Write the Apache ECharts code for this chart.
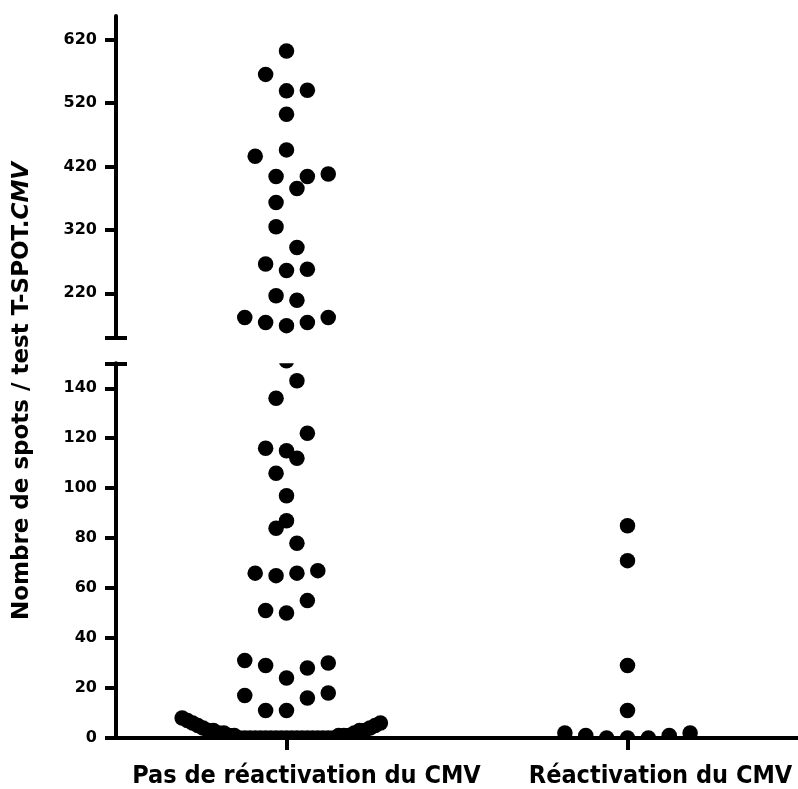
<!DOCTYPE html>
<html>
<head>
<meta charset="utf-8">
<script src="https://cdn.jsdelivr.net/npm/echarts@6/dist/echarts.min.js"></script>
<style>html,body{margin:0;background:#fff}#main{width:798px;height:789px}</style>
</head>
<body>
<div id="main"></div>
<script>
// groupes
const categories = ['Pas de réactivation du CMV', 'Réactivation du CMV'];

// nombre de spots par patient, lu sur la figure
// + place dans le nuage de points (en quarts d'écart entre deux points)
const noReactValues = [
  602, 565, 539, 540, 502, 446, 436, 404, 404, 408, 385, 363, 325, 292,
  266, 256, 258, 216, 209, 182, 174, 169, 174, 182,
  151, 143, 136, 122, 116, 115, 112, 106, 97, 87, 84, 78, 66, 65, 66, 67,
  55, 51, 50, 31, 29, 24, 28, 30, 17, 11, 11, 16, 18,
  8, 7, 6, 5, 4, 3, 3, 2, 2, 1, 1, 0, 0, 0, 0, 0, 0, 0, 0, 0, 0, 0, 0,
  0, 0, 0, 0, 0, 0, 0, 1, 1, 1, 2, 3, 3, 4, 5, 6, 7
];
const noReactOffsets = [
  0, -4, 0, 4, 0, 0, -6, -2, 4, 8, 2, -2, -2, 2,
  -4, 0, 4, -2, 2, -8, -4, 0, 4, 8,
  0, 2, -2, 4, -4, 0, 2, -2, 0, 0, -2, 2, -6, -2, 2, 6,
  4, -4, 0, -8, -4, 0, 4, 8, -8, -4, 0, 4, 8,
  -20, -19, -18, -17, -16, -15, -14, -13, -12, -11, -10, -9, -8, -7, -6, -5, -4, -3, -2, -1, 0, 1,
  2, 3, 4, 5, 6, 7, 8, 9, 10, 11, 12, 13, 14, 15, 16, 17, 18
];
const reactValues = [85, 71, 29, 11, 2, 1, 0, 0, 0, 1, 2];
const reactOffsets = [0, 0, 0, 0, -12, -8, -4, 0, 4, 8, 12];

// graduations des deux segments de l'axe
const upperTicks = [220, 320, 420, 520, 620];
const lowerTicks = [0, 20, 40, 60, 80, 100, 120, 140];
const upperRange = [150, 657];
const lowerRange = [0, 150];

const STEP = 0.0153;   // un quart d'écart, en unités de catégorie
const R = 7.75;

function points(values, offsets, group, upper) {
  const out = [];
  values.forEach((v, i) => {
    if ((v >= 160) === upper) out.push([group + offsets[i] * STEP, v]);
  });
  return out;
}

const upperData = points(noReactValues, noReactOffsets, 0, true)
  .concat(points(reactValues, reactOffsets, 1, true));
const lowerData = points(noReactValues, noReactOffsets, 0, false)
  .concat(points(reactValues, reactOffsets, 1, false));

const tickFont = { color: '#000', fontSize: 16, fontWeight: 'bold', fontFamily: 'DejaVu Sans' };
const catFont = { color: '#000', fontSize: 25, fontWeight: 'bold', fontFamily: "'Liberation Sans Narrow', 'DejaVu Sans Condensed', sans-serif" };
const black = { color: '#000', width: 4 };

// point rogné au cadre du segment (comme la coupure de l'original)
function dot(params, api) {
  const p = api.coord([api.value(0), api.value(1)]);
  const cs = params.coordSys;
  return {
    type: 'circle', shape: { cx: p[0], cy: p[1], r: R }, style: { fill: '#000' },
    clipPath: { type: 'rect', shape: { x: cs.x - 20, y: cs.y, width: cs.width + 40, height: cs.height } }
  };
}

function mainY(grid, range, ticks) {
  return {
    type: 'value', gridIndex: grid, min: range[0], max: range[1], position: 'left',
    axisLine: { show: true, onZero: false, lineStyle: black },
    axisTick: { show: true, length: 11, lineStyle: black, customValues: ticks.concat([150]) },
    axisLabel: Object.assign({ margin: 19, customValues: ticks }, tickFont),
    splitLine: { show: false }
  };
}
// petit trait intérieur au niveau de la coupure
function capY(grid, range) {
  return {
    type: 'value', gridIndex: grid, min: range[0], max: range[1], position: 'left', offset: 0,
    axisLine: { show: false, onZero: false },
    axisTick: { show: true, inside: true, length: 11, lineStyle: black, customValues: [150] },
    axisLabel: { show: false },
    splitLine: { show: false }
  };
}

const chart = echarts.init(document.getElementById('main'));
const option = {
  animation: false,
  backgroundColor: '#fff',
  grid: [
    { left: 116, top: 16, width: 688, height: 321.7 },
    { left: 116, top: 363.3, width: 688, height: 375 }
  ],
  xAxis: [
    { type: 'value', gridIndex: 0, min: -0.5, max: 1.5, show: false },
    {
      type: 'value', gridIndex: 1, min: -0.5, max: 1.5,
      axisLine: { show: true, onZero: false, lineStyle: black },
      axisTick: { show: true, length: 12, lineStyle: black, customValues: [0, 1] },
      axisLabel: Object.assign({
        customValues: [0, 1],
        formatter: v => '{c' + Math.round(v) + '|' + categories[Math.round(v)] + '}',
        margin: 26,
        rich: {
          c0: Object.assign({ padding: [0, 0, 0, 40] }, catFont),
          c1: Object.assign({ padding: [0, 0, 0, 66] }, catFont)
        }
      }, catFont),
      splitLine: { show: false }
    }
  ],
  yAxis: [
    mainY(0, upperRange, upperTicks),
    mainY(1, lowerRange, lowerTicks),
    capY(0, upperRange),
    capY(1, lowerRange)
  ],
  graphic: [{
    type: 'text', x: 22, y: 391, rotation: Math.PI / 2,
    style: {
      text: '{a|Nombre de spots / test T-SPOT.}{b|CMV}',
      align: 'center', verticalAlign: 'middle',
      font: 'bold 23px "DejaVu Sans"',
      rich: {
        a: { font: 'bold 23px "DejaVu Sans"', fontSize: 23, fontWeight: 'bold', fontFamily: 'DejaVu Sans', fill: '#000' },
        b: { font: 'italic bold 23px "DejaVu Sans"', fontSize: 23, fontWeight: 'bold', fontStyle: 'italic', fontFamily: 'DejaVu Sans', fill: '#000' }
      }
    }
  }],
  series: [
    { type: 'custom', xAxisIndex: 0, yAxisIndex: 0, encode: { x: 0, y: 1 }, renderItem: dot, data: upperData },
    { type: 'custom', xAxisIndex: 1, yAxisIndex: 1, encode: { x: 0, y: 1 }, renderItem: dot, data: lowerData }
  ]
};
chart.setOption(option);
</script>
</body>
</html>
